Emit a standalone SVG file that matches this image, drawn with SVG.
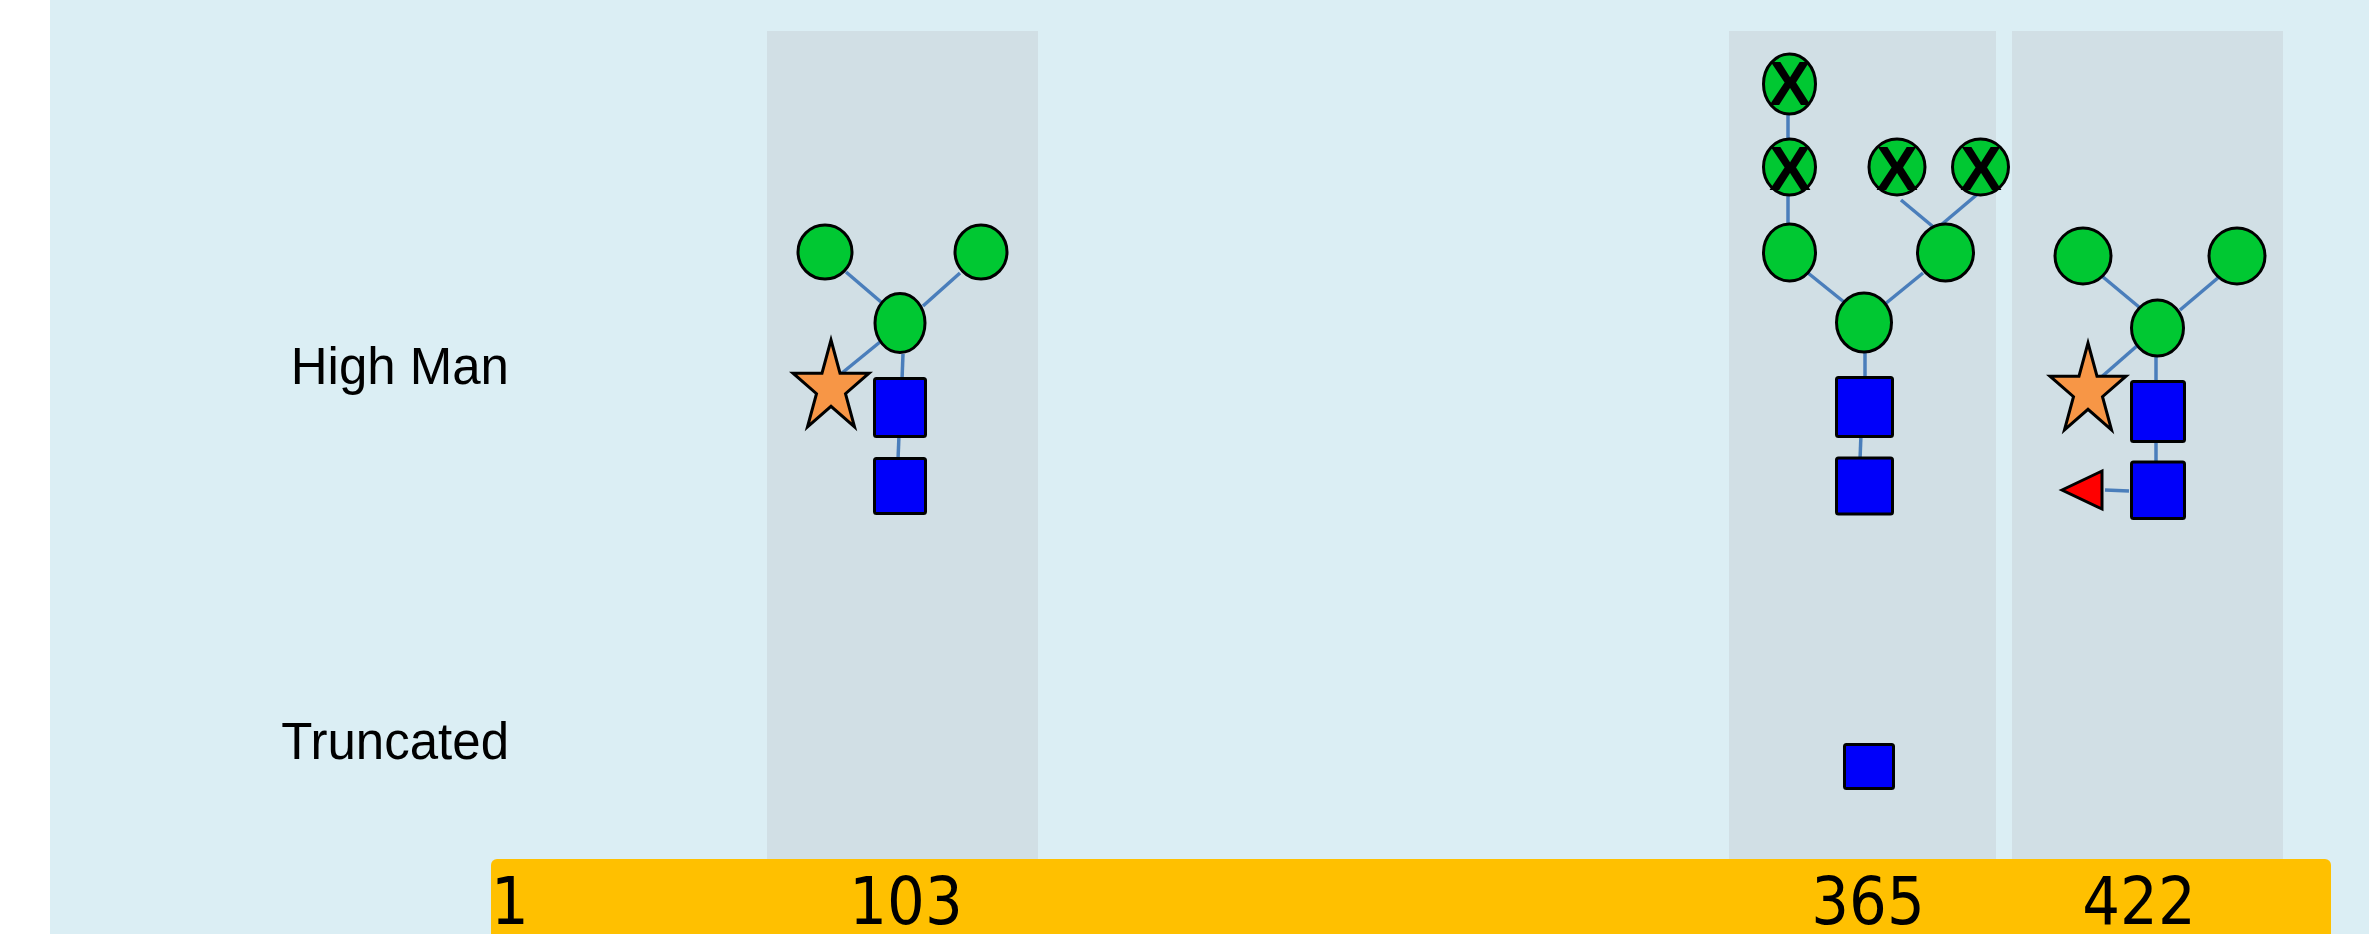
<svg xmlns="http://www.w3.org/2000/svg" width="2369" height="934" viewBox="0 0 2369 934">
<style>
.band{fill:#D1DFE5}
.lbl{font-family:"Liberation Sans",Arial,sans-serif;font-size:51px;fill:#000}
.num{font-family:"DejaVu Sans Condensed","Liberation Sans",sans-serif;font-size:66px;fill:#000}
.man{fill:#00C832;stroke:#000;stroke-width:3}
.glc{fill:#0000FA;stroke:#000;stroke-width:3}
.fuc{fill:#FF0000;stroke:#000;stroke-width:3}
.sia{fill:#F79646;stroke:#000;stroke-width:3}
.x{font-family:"Liberation Sans",Arial,sans-serif;font-weight:bold;font-size:63px;fill:#000;text-anchor:middle}
.lnk line{stroke:#4A7EBB;stroke-width:3.5}
</style>
<defs>
<polygon id="star" points="0,-48 9,-14.8 38,-14.8 14.5,5.7 23.5,38.8 0,18.3 -23.5,38.8 -14.5,5.7 -38,-14.8 -9,-14.8"/>
</defs>
<rect x="0" y="0" width="2369" height="934" fill="#FFFFFF"/>
<rect x="50" y="0" width="2319" height="934" fill="#DBEEF4"/>
<g id="bands">
<rect class="band" x="767" y="31" width="271" height="903"/>
<rect class="band" x="1729" y="31" width="267" height="903"/>
<rect class="band" x="2012" y="31" width="271" height="903"/>
</g>
<g id="labels">
<text class="lbl" x="509" y="384" text-anchor="end">High Man</text>
<text class="lbl" x="509" y="759" text-anchor="end">Truncated</text>
</g>
<g id="connectors" class="lnk">
<line x1="846" y1="272" x2="881" y2="302"/>
<line x1="960" y1="273" x2="923" y2="306"/>
<line x1="880" y1="342" x2="842" y2="373"/>
<line x1="903" y1="354" x2="902" y2="380"/>
<line x1="899" y1="435" x2="898" y2="460"/>
<line x1="1788" y1="111" x2="1788" y2="138"/>
<line x1="1788" y1="196" x2="1788" y2="223"/>
<line x1="1808" y1="273" x2="1844" y2="302"/>
<line x1="1923" y1="273" x2="1885" y2="304"/>
<line x1="1901" y1="200" x2="1937" y2="230"/>
<line x1="1980" y1="192" x2="1941" y2="225"/>
<line x1="1865" y1="353" x2="1865" y2="380"/>
<line x1="1861" y1="434" x2="1860" y2="460"/>
<line x1="2103" y1="277" x2="2139" y2="307"/>
<line x1="2219" y1="277" x2="2180" y2="310"/>
<line x1="2138" y1="345" x2="2098" y2="380"/>
<line x1="2156" y1="357" x2="2156" y2="383"/>
<line x1="2156" y1="438" x2="2156" y2="465"/>
<line x1="2105" y1="490" x2="2129" y2="491"/>
</g>
<g id="site103">
<ellipse class="man" cx="825" cy="252" rx="27" ry="27"/>
<ellipse class="man" cx="981" cy="252" rx="26" ry="27"/>
<ellipse class="man" cx="900" cy="323" rx="25" ry="29.5"/>
<use href="#star" class="sia" x="831" y="388"/>
<rect class="glc" x="874.5" y="378.5" width="51" height="58" rx="2"/>
<rect class="glc" x="874.5" y="458.5" width="51" height="55" rx="2"/>
</g>
<g id="site365">
<ellipse class="man" cx="1789.5" cy="84" rx="26" ry="30"/>
<text class="x" x="1790" y="105">X</text>
<ellipse class="man" cx="1789.5" cy="167" rx="26" ry="28"/>
<text class="x" x="1790" y="190">X</text>
<ellipse class="man" cx="1897" cy="167" rx="28" ry="28"/>
<text class="x" x="1897" y="190">X</text>
<ellipse class="man" cx="1980.5" cy="167" rx="28" ry="28"/>
<text class="x" x="1981" y="190">X</text>
<ellipse class="man" cx="1789.5" cy="252.5" rx="26" ry="28.5"/>
<ellipse class="man" cx="1945.5" cy="252.5" rx="28" ry="28.5"/>
<ellipse class="man" cx="1864" cy="322.5" rx="27.5" ry="29.5"/>
<rect class="glc" x="1836.5" y="377.5" width="56" height="59" rx="2"/>
<rect class="glc" x="1836.5" y="458" width="56" height="56" rx="2"/>
</g>
<g id="site365-truncated">
<rect class="glc" x="1844.5" y="744.5" width="49" height="44" rx="2"/>
</g>
<g id="site422">
<ellipse class="man" cx="2083" cy="256" rx="28" ry="28"/>
<ellipse class="man" cx="2237" cy="256" rx="28" ry="28"/>
<ellipse class="man" cx="2157.5" cy="328" rx="26" ry="28"/>
<use href="#star" class="sia" x="2088" y="391"/>
<rect class="glc" x="2131.5" y="381.5" width="53" height="60" rx="2"/>
<rect class="glc" x="2131.5" y="462" width="53" height="56.5" rx="2"/>
<polygon class="fuc" points="2062,490 2102,471 2102,509"/>
</g>
<g id="sequence-bar">
<rect x="491" y="859" width="1840" height="100" rx="6" fill="#FFC000"/>
<text class="num" x="491" y="924">1</text>
<text class="num" x="906" y="924" text-anchor="middle">103</text>
<text class="num" x="1868" y="924" text-anchor="middle">365</text>
<text class="num" x="2139" y="924" text-anchor="middle">422</text>
</g>
</svg>
